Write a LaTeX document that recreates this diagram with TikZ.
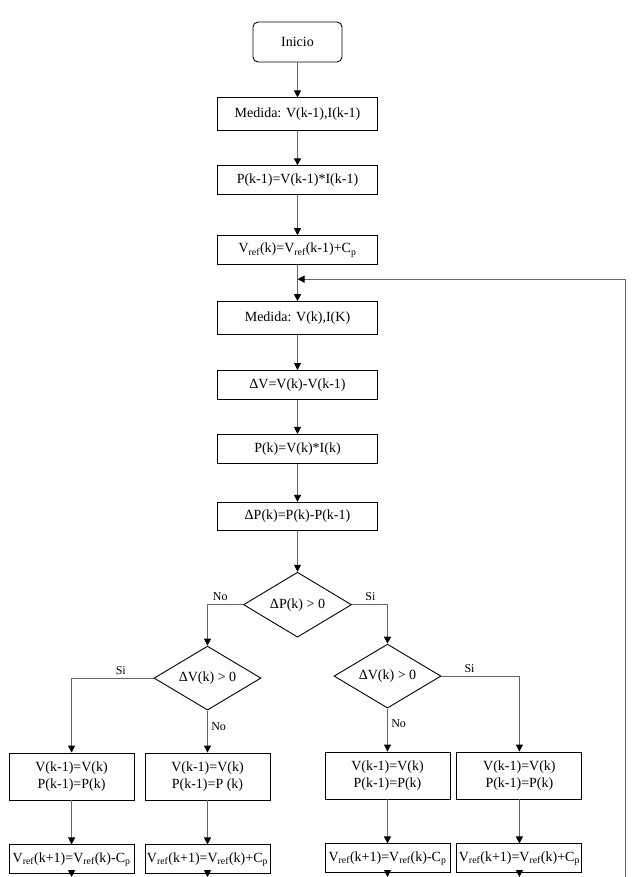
\documentclass[tikz,border=0pt]{standalone}
\usepackage{fontspec}
\setmainfont{Liberation Serif}
\usetikzlibrary{positioning,shapes.geometric,arrows.meta}

\begin{document}
\begin{tikzpicture}[x=1pt,y=1pt,
  node distance=35pt,
  blk/.style={draw,line width=0.9pt,align=center,minimum width=160pt,minimum height=29pt,inner sep=1pt,font=\fontsize{14}{17}\selectfont},
  sblk/.style={blk,minimum width=125pt},
  dia/.style={draw,diamond,aspect=2,line width=0.9pt,minimum width=107pt,minimum height=64pt,inner sep=0pt,font=\fontsize{14}{17}\selectfont},
  lbl/.style={font=\fontsize{12}{14}\selectfont},
  arr/.style={draw=black!60,line width=0.9pt,-{Triangle[length=7pt,width=7pt,color=black]}}]
\useasboundingbox (0,0) rectangle (632,-877);
% main column
\node[blk,rounded corners=5pt,minimum width=89pt,minimum height=40pt] (ini) at (297.5,-42) {Inicio};
\node[blk,below=of ini,minimum height=33pt] (m1) {Medida: V(k-1),I(k-1)};
\node[blk,below=34pt of m1] (p1) {P(k-1)=V(k-1)*I(k-1)};
\node[blk,below=40pt of p1] (vr) {V\textsubscript{ref}(k)=V\textsubscript{ref}(k-1)+C\textsubscript{p}};
\node[blk,below=36pt of vr,minimum height=33pt] (m2) {Medida: V(k),I(K)};
\node[blk,below=of m2] (dv) {ΔV=V(k)-V(k-1)};
\node[blk,below=34pt of dv] (p2) {P(k)=V(k)*I(k)};
\node[blk,below=38pt of p2,minimum height=28pt] (dp) {ΔP(k)=P(k)-P(k-1)};
\node[dia,below=41pt of dp,minimum width=108pt,minimum height=65pt] (d) {ΔP(k) > 0};
% branches
\node[dia,below=8pt of d,xshift=-90pt] (dl) {ΔV(k) > 0};
\node[dia,below=6pt of d,xshift=90pt] (dr) {ΔV(k) > 0};
\node[sblk,below=42pt of dl,minimum height=47pt] (l2) {V(k-1)=V(k)\\P(k-1)=P (k)};
\node[sblk,left=10pt of l2,minimum height=47pt] (l1) {V(k-1)=V(k)\\P(k-1)=P(k)};
\node[sblk,below=43pt of dr,minimum height=47pt] (r1) {V(k-1)=V(k)\\P(k-1)=P(k)};
\node[sblk,right=6pt of r1,minimum height=47pt] (r2) {V(k-1)=V(k)\\P(k-1)=P(k)};
\node[sblk,below=44pt of l1] (l1b) {V\textsubscript{ref}(k+1)=V\textsubscript{ref}(k)-C\textsubscript{p}};
\node[sblk,below=44pt of l2] (l2b) {V\textsubscript{ref}(k+1)=V\textsubscript{ref}(k)+C\textsubscript{p}};
\node[sblk,below=44pt of r1] (r1b) {V\textsubscript{ref}(k+1)=V\textsubscript{ref}(k)-C\textsubscript{p}};
\node[sblk,below=44pt of r2] (r2b) {V\textsubscript{ref}(k+1)=V\textsubscript{ref}(k)+C\textsubscript{p}};
\coordinate[below=14pt of vr] (mrg);
\coordinate (bot) at (0,-877);
\coordinate (fb) at (625,-877);
% connectors
\draw[arr] (ini)--(m1); \draw[arr] (m1)--(p1); \draw[arr] (p1)--(vr); \draw[arr] (vr)--(m2);
\draw[arr] (m2)--(dv); \draw[arr] (dv)--(p2); \draw[arr] (p2)--(dp); \draw[arr] (dp)--(d);
\draw[arr] (d.west) -| node[lbl,pos=0.32,above]{No} (dl.north);
\draw[arr] (d.east) -| node[lbl,pos=0.26,above]{Si} (dr.north);
\draw[arr] (dl.west) -| node[lbl,pos=0.2,above]{Si} (l1.north);
\draw[arr] (dl.south) -- node[lbl,pos=0.38,right]{No} (dl.south |- l2.north);
\draw[arr] (dr.east) -| node[lbl,pos=0.18,above]{Si} (r2.north);
\draw[arr] (dr.south) -- node[lbl,pos=0.35,right]{No} (dr.south |- r1.north);
\draw[arr] (l1)--(l1b); \draw[arr] (l2)--(l2b); \draw[arr] (r1)--(r1b); \draw[arr] (r2)--(r2b);
\draw[arr] (l1b)--(l1b |- bot); \draw[arr] (l2b)--(l2b |- bot);
\draw[arr] (r1b)--(r1b |- bot); \draw[arr] (r2b)--(r2b |- bot);
\draw[arr] (fb) |- (mrg);
\end{tikzpicture}
\end{document}
